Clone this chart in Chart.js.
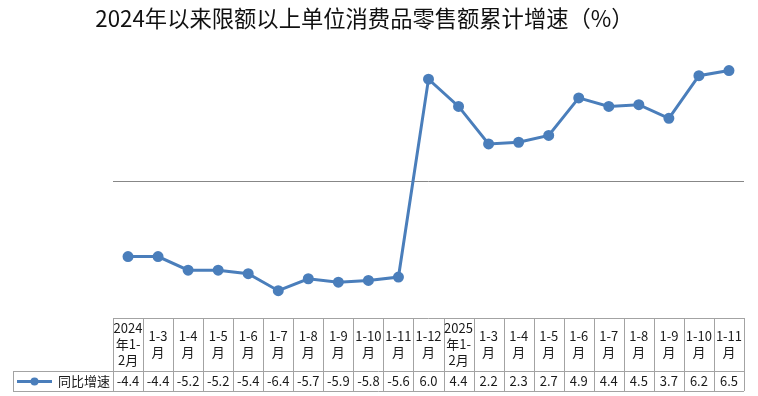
<!DOCTYPE html>
<html>
<head>
<meta charset="utf-8">
<script src="https://cdn.jsdelivr.net/npm/chart.js@4/dist/chart.umd.min.js"></script>
<style>
  html, body { margin: 0; padding: 0; background: #fff; }
  #wrap { width: 758px; height: 396px; }
</style>
</head>
<body>
<div id="wrap"><canvas id="chart" width="758" height="396"></canvas></div>
<script>
// Chart data
const titleText = "2024年以来限额以上单位消费品零售额累计增速（%）";
const seriesName = "同比增速";
const periods = [
  ["2024", "年1-", "2月"], ["1-3", "月"], ["1-4", "月"], ["1-5", "月"], ["1-6", "月"],
  ["1-7", "月"], ["1-8", "月"], ["1-9", "月"], ["1-10", "月"], ["1-11", "月"], ["1-12", "月"],
  ["2025", "年1-", "2月"], ["1-3", "月"], ["1-4", "月"], ["1-5", "月"], ["1-6", "月"],
  ["1-7", "月"], ["1-8", "月"], ["1-9", "月"], ["1-10", "月"], ["1-11", "月"]
];
const growth = [-4.4, -4.4, -5.2, -5.2, -5.4, -6.4, -5.7, -5.9, -5.8, -5.6, 6.0,
                4.4, 2.2, 2.3, 2.7, 4.9, 4.4, 4.5, 3.7, 6.2, 6.5];
const valueLabels = ["-4.4", "-4.4", "-5.2", "-5.2", "-5.4", "-6.4", "-5.7", "-5.9", "-5.8", "-5.6", "6.0",
                     "4.4", "2.2", "2.3", "2.7", "4.9", "4.4", "4.5", "3.7", "6.2", "6.5"];

const lineColor = "#4a7ebb";
const borderColor = "#a3a3a3";
const textFont = '13px "Noto Sans CJK SC", "Noto Sans", sans-serif';

// Draws the title and the data table under the plot
const tablePlugin = {
  id: "dataTable",
  afterDraw(chart) {
    const ctx = chart.ctx;
    const x = chart.scales.x;
    const area = chart.chartArea;
    const headTop = 318, headBottom = 371, rowBottom = 391;
    const legendLeft = 13;
    const n = periods.length;
    const step = (area.right - area.left) / n;

    ctx.save();
    // title
    ctx.fillStyle = "#111";
    ctx.font = '22.3px "Noto Sans CJK SC", sans-serif';
    ctx.textAlign = "center";
    ctx.textBaseline = "middle";
    ctx.fillText(titleText, 364.5, 19);

    // table grid
    ctx.strokeStyle = borderColor;
    ctx.lineWidth = 1;
    ctx.beginPath();
    ctx.moveTo(area.left, headTop + 0.5);
    ctx.lineTo(area.right, headTop + 0.5);
    ctx.moveTo(legendLeft, headBottom + 0.5);
    ctx.lineTo(area.right, headBottom + 0.5);
    ctx.moveTo(legendLeft, rowBottom + 0.5);
    ctx.lineTo(area.right, rowBottom + 0.5);
    ctx.moveTo(legendLeft + 0.5, headBottom);
    ctx.lineTo(legendLeft + 0.5, rowBottom);
    for (let i = 0; i <= n; i++) {
      const gx = Math.round(area.left + i * step) + 0.5;
      ctx.moveTo(gx, headTop);
      ctx.lineTo(gx, rowBottom);
    }
    ctx.stroke();

    // header labels and values
    ctx.fillStyle = "#1a1a1a";
    ctx.font = textFont;
    const lh = 16;
    const headMid = (headTop + headBottom) / 2;
    const rowMid = (headBottom + rowBottom) / 2 + 0.5;
    periods.forEach((lines, i) => {
      const cx = x.getPixelForValue(i);
      const y0 = headMid - (lines.length - 1) * lh / 2;
      lines.forEach((t, k) => ctx.fillText(t, cx, y0 + k * lh));
      ctx.fillText(valueLabels[i], cx, rowMid);
    });

    // legend cell
    ctx.strokeStyle = lineColor;
    ctx.lineWidth = 3;
    ctx.beginPath();
    ctx.moveTo(17, rowMid);
    ctx.lineTo(52, rowMid);
    ctx.stroke();
    ctx.fillStyle = lineColor;
    ctx.beginPath();
    ctx.arc(34.5, rowMid, 4, 0, Math.PI * 2);
    ctx.fill();
    ctx.fillStyle = "#1a1a1a";
    ctx.textAlign = "left";
    ctx.fillText(seriesName, 58, rowMid);
    ctx.restore();
  }
};

new Chart(document.getElementById("chart"), {
  type: "line",
  data: {
    labels: periods,
    datasets: [{
      label: seriesName,
      data: growth,
      borderColor: lineColor,
      backgroundColor: lineColor,
      borderWidth: 3,
      pointRadius: 4,
      pointBackgroundColor: lineColor,
      pointBorderColor: lineColor,
      tension: 0
    }]
  },
  options: {
    responsive: false,
    animation: false,
    layout: { padding: { left: 113, right: 14, top: 45, bottom: 78 } },
    plugins: {
      legend: { display: false },
      title: { display: false },
      tooltip: { enabled: false }
    },
    scales: {
      x: {
        display: false,
        offset: true
      },
      y: {
        min: -8,
        max: 8,
        ticks: { display: false, stepSize: 8 },
        border: { display: false },
        grid: {
          drawTicks: false,
          color: (c) => (c.tick && c.tick.value === 0 ? "#878787" : "rgba(0,0,0,0)"),
          lineWidth: 1
        }
      }
    }
  },
  plugins: [tablePlugin]
});
</script>
</body>
</html>
